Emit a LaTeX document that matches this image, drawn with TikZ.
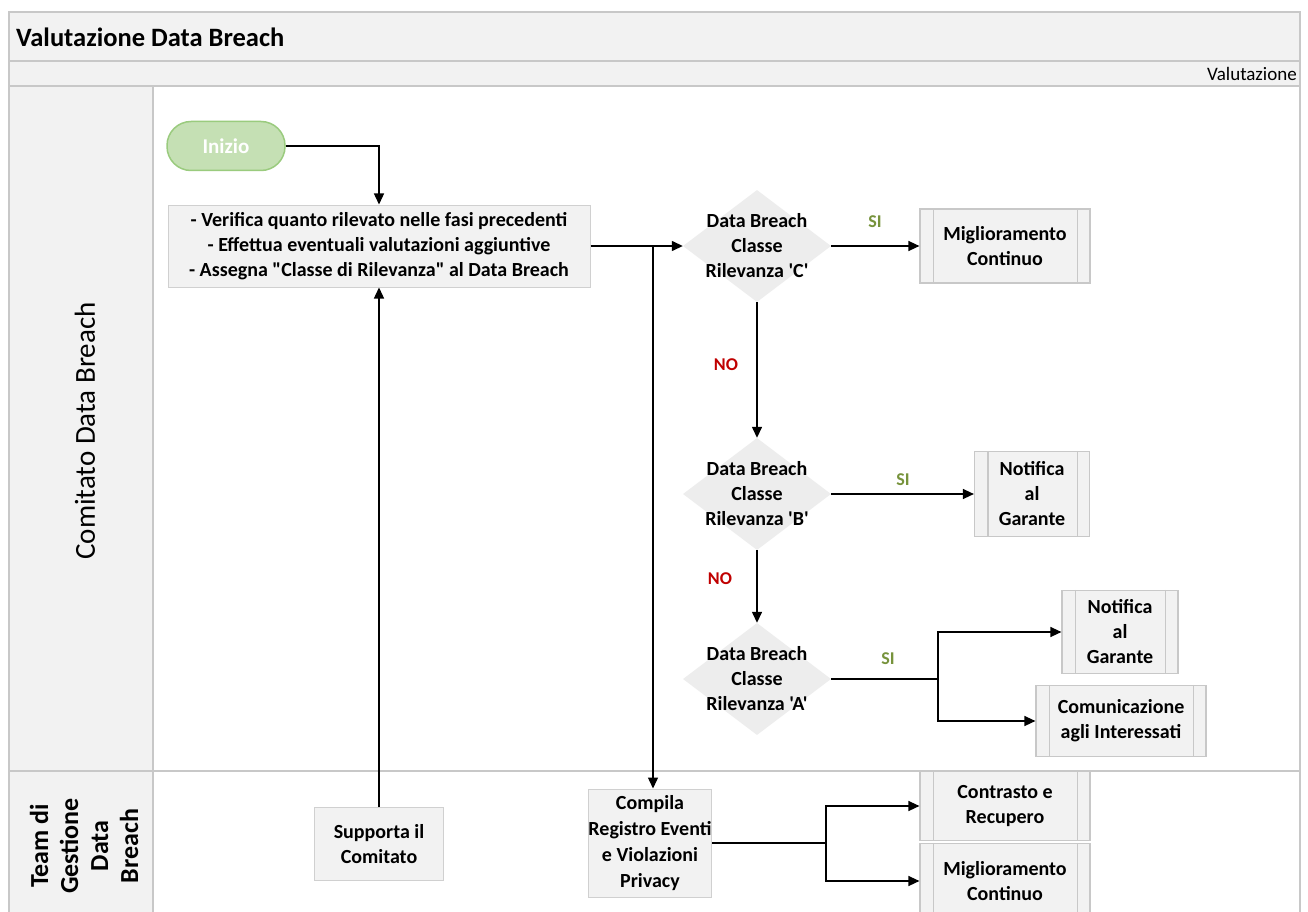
\documentclass[tikz,border=0pt]{standalone}
\usepackage{fontspec}
\setmainfont{Carlito}[Ligatures=TeXOff]
\usetikzlibrary{shapes.geometric,arrows.meta,calc}
\definecolor{hdrfill}{HTML}{F2F2F2}
\definecolor{hdrline}{HTML}{C8C8C8}
\definecolor{boxfill}{HTML}{F2F2F2}
\definecolor{boxline}{HTML}{D0D0D0}
\definecolor{dmfill}{HTML}{EDEDED}
\definecolor{startfill}{HTML}{C5E0B4}
\definecolor{startline}{HTML}{9ACB7E}
\definecolor{sigreen}{HTML}{77933C}
\definecolor{nored}{HTML}{C00000}
\tikzset{
  every node/.style={inner sep=0pt},
  nodefont/.style={font=\bfseries\fontsize{20}{25}\selectfont},
  proc/.style={nodefont, rectangle, fill=boxfill, draw=boxline, line width=1pt, align=center},
  subproc/.style={proc, draw=hdrline, line width=1.2pt},
  decision/.style={diamond, fill=dmfill, minimum width=148pt, minimum height=112pt},
  dlabel/.style={nodefont, align=center},
  flow/.style={line width=1.4pt, -{Triangle[length=11pt,width=10pt]}},
  plain/.style={line width=1.4pt},
  silab/.style={font=\bfseries\fontsize{18}{22}\selectfont, text=sigreen},
  nolab/.style={font=\bfseries\fontsize{18}{22}\selectfont, text=nored},
  lanefont/.style={font=\bfseries\fontsize{26}{30}\selectfont, align=center},
}
\begin{document}
\begin{tikzpicture}[x=1pt,y=-1pt]
\useasboundingbox (0,0) rectangle (1308,912);
\begin{scope}
\clip (0,0) rectangle (1308,912);
% pool frame
\fill[white] (9,12) rectangle (1300,930);
\draw[hdrline, line width=1.8pt, fill=hdrfill] (9,12) rectangle (1300,61);
\draw[hdrline, line width=1.8pt, fill=hdrfill] (9,61) rectangle (1300,86);
\draw[hdrline, line width=1.8pt, fill=hdrfill] (9,86) rectangle (153,771);
\draw[hdrline, line width=1.8pt, fill=hdrfill] (9,771) rectangle (153,930);
\draw[hdrline, line width=1.8pt] (9,12) rectangle (1300,930);
\draw[hdrline, line width=1.8pt] (153,771) -- (1300,771);

\node[anchor=west, font=\bfseries\fontsize{26.5}{30}\selectfont] (title) at (16,37) {Valutazione Data Breach};
\node[anchor=east, font=\fontsize{19}{22}\selectfont] (phase) at (1297,74) {Valutazione};
\node[font=\fontsize{29}{32}\selectfont, rotate=90] (lane1) at (85,431) {Comitato Data Breach};
\node[lanefont, rotate=90] (lane2) at (84,846) {Team di\\Gestione\\Data\\Breach};

% nodes
\node[font=\bfseries\fontsize{21}{25}\selectfont, rounded corners=24pt, fill=startfill, draw=startline, line width=1.5pt,
      minimum width=118pt, minimum height=49pt, text=white] (ini) at (226,146) {Inizio};
\node[proc, minimum width=422pt, minimum height=82pt] (verif) at (379,246)
  {- Verifica quanto rilevato nelle fasi precedenti\\- Effettua eventuali valutazioni aggiuntive\\- Assegna "Classe di Rilevanza" al Data Breach};
\node[proc, minimum width=129pt, minimum height=73pt] (supp) at (379,844) {Supporta il\\Comitato};
\node[proc, minimum width=120pt, minimum height=108pt, font=\bfseries\fontsize{20}{26}\selectfont] (comp) at (650,843)
  {Compila\\Registro Eventi\\e Violazioni\\Privacy};

\node[decision, label={[dlabel]center:Data Breach\\Classe\\Rilevanza 'C'}] (dC) at (757,246) {};
\node[decision, label={[dlabel]center:Data Breach\\Classe\\Rilevanza 'B'}] (dB) at (757,494) {};
\node[decision, label={[dlabel]center:Data Breach\\Classe\\Rilevanza 'A'}] (dA) at (757,679) {};

\node[subproc, minimum width=170pt, minimum height=74pt] (mig1) at (1005,246) {Miglioramento\\Continuo};
\node[subproc, minimum width=115pt, minimum height=85pt] (not1) at (1032,494) {Notifica\\al\\Garante};
\node[subproc, minimum width=116pt, minimum height=83pt] (not2) at (1120,632) {Notifica\\al\\Garante};
\node[subproc, minimum width=170pt, minimum height=71pt] (com) at (1121,721) {Comunicazione\\agli Interessati};
\node[subproc, minimum width=170pt, minimum height=69pt] (contr) at (1005,806) {Contrasto e\\Recupero};
\node[subproc, minimum width=170pt, minimum height=75pt] (mig2) at (1005,881) {Miglioramento\\Continuo};

\foreach \n in {mig1,not1,not2,com,contr,mig2}{
  \draw[hdrline, line width=1.2pt] ([xshift=14pt]\n.north west) -- ([xshift=14pt]\n.south west);
  \draw[hdrline, line width=1.2pt] ([xshift=-13pt]\n.north east) -- ([xshift=-13pt]\n.south east);
}

% connectors
\coordinate (jV) at (653,246);
\coordinate (jA) at (938,679);
\coordinate (jC) at (826,843);
\draw[flow] (ini.east) -| (verif.north);
\draw[flow] (supp.north) -- (verif.south);
\draw[flow] (verif.east) -- (dC.west);
\draw[flow] (jV) -- (jV |- comp.north);
\draw[flow] (dC.east) -- (mig1.west);
\draw[flow] (dC.south) -- (dB.north);
\draw[flow] (dB.east) -- (not1.west);
\draw[flow] (dB.south) -- (dA.north);
\draw[plain] (dA.east) -- (jA);
\draw[flow] (jA) |- (not2.west);
\draw[flow] (jA) |- (com.west);
\draw[plain] (comp.east) -- (jC);
\draw[flow] (jC) |- (contr.west);
\draw[flow] (jC) |- (mig2.west);

% labels
\node[silab] (siC) at (875,222) {SI};
\node[nolab] (noC) at (726,365) {NO};
\node[silab] (siB) at (903,480) {SI};
\node[nolab] (noB) at (720,579) {NO};
\node[silab] (siA) at (888,659) {SI};
\end{scope}
\end{tikzpicture}
\end{document}
